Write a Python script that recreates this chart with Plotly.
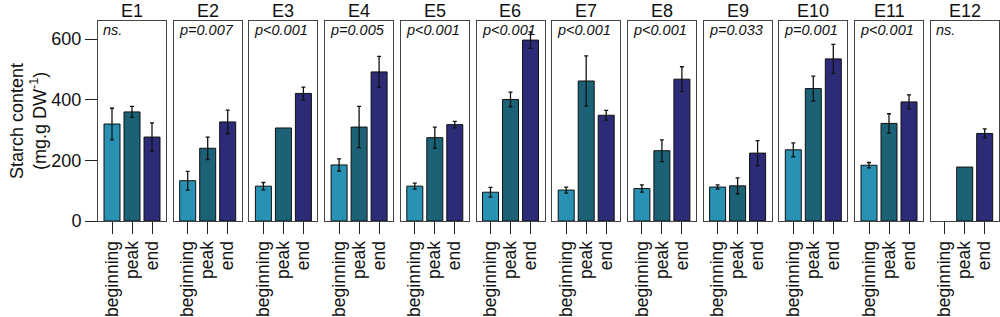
import plotly.graph_objects as go

panels = ["E1", "E2", "E3", "E4", "E5", "E6", "E7", "E8", "E9", "E10", "E11", "E12"]
pvals = ["ns.", "p=0.007", "p<0.001", "p=0.005", "p<0.001", "p<0.001",
         "p<0.001", "p<0.001", "p=0.033", "p=0.001", "p<0.001", "ns."]
stages = ["beginning", "peak", "end"]

beginning = [320, 133, 115, 185, 115, 95, 102, 107, 112, 235, 184, None]
beginning_err = [52, 31, 12, 20, 10, 16, 10, 12, 7, 23, 9, None]
peak = [360, 240, 307, 310, 275, 401, 462, 232, 116, 437, 322, 178]
peak_err = [18, 37, None, 68, 35, 24, 83, 36, 26, 41, 32, None]
end = [277, 327, 421, 492, 318, 597, 349, 468, 224, 535, 393, 289]
end_err = [47, 39, 21, 51, 11, 27, 16, 41, 41, 48, 23, 15]

colors = ["#2891b4", "#1c6277", "#2b2b78"]
y_ticks = [0, 200, 400, 600]

W, H = 1000, 317
FONT = "Liberation Sans, Arial, Helvetica, sans-serif"

fig = go.Figure()
left0, pitch, pw = 98.0, 75.7, 68.0
ytop_px, ybot_px = 20.7, 221.0
ydom = [1 - ybot_px / H, 1 - ytop_px / H]

series = [(beginning, beginning_err), (peak, peak_err), (end, end_err)]

for i, name in enumerate(panels):
    xa = "x" if i == 0 else f"x{i+1}"
    ya = "y" if i == 0 else f"y{i+1}"
    vals = [series[k][0][i] for k in range(3)]
    errs = [series[k][1][i] for k in range(3)]
    fig.add_trace(go.Bar(
        x=stages, y=vals, width=0.8,
        marker=dict(color=colors, line=dict(color="#111", width=1)),
        xaxis=xa, yaxis=ya, showlegend=False,
    ))
    for k in range(3):
        if errs[k] is None or vals[k] is None:
            continue
        fig.add_trace(go.Scatter(
            x=[stages[k]], y=[vals[k]], mode="markers",
            marker=dict(size=1, color="rgba(0,0,0,0)"),
            error_y=dict(type="data", array=[errs[k]], color="#111", thickness=1.3, width=2),
            xaxis=xa, yaxis=ya, showlegend=False, hoverinfo="skip",
        ))
    x0 = (left0 + i * pitch) / W
    x1 = (left0 + i * pitch + pw) / W
    fig.layout[f"xaxis{'' if i == 0 else i+1}"] = dict(
        domain=[x0, x1], anchor=ya, type="category",
        categoryorder="array", categoryarray=stages,
        tickmode="array", tickvals=stages, ticktext=stages,
        range=[-0.7, 2.7], showgrid=False, zeroline=False,
        showline=True, mirror=True, linecolor="#444", linewidth=1,
        ticks="outside", ticklen=12, tickcolor="#222", tickwidth=1,
        tickangle=-90, tickfont=dict(family=FONT, size=17.5, color="#111"),
        automargin=False, fixedrange=True,
    )
    fig.layout[f"yaxis{'' if i == 0 else i+1}"] = dict(
        domain=ydom, anchor=xa, range=[0, 661],
        showgrid=False, zeroline=False,
        showline=True, mirror=True, linecolor="#444", linewidth=1,
        tickmode="array", tickvals=y_ticks if i == 0 else [],
        ticks="outside" if i == 0 else "", ticklen=12, tickcolor="#222",
        showticklabels=(i == 0),
        tickfont=dict(family=FONT, size=18, color="#111"),
        automargin=False, fixedrange=True,
    )
    fig.add_annotation(
        x=(x0 + x1) / 2, y=1 - 10.5 / H, xref="paper", yref="paper",
        text=name, showarrow=False, xanchor="center", yanchor="middle",
        font=dict(family=FONT, size=18, color="#111"),
    )
    fig.add_annotation(
        x=x0 + 3 / W, y=1 - 30.5 / H, xref="paper", yref="paper",
        text=f"<i>{pvals[i]}</i>", showarrow=False, xanchor="left", yanchor="middle",
        font=dict(family=FONT, size=14.5, color="#111"),
    )

fig.add_annotation(
    x=17 / W, y=1 - 121 / H, xref="paper", yref="paper",
    text="Starch content", textangle=-90, showarrow=False,
    xanchor="center", yanchor="middle",
    font=dict(family=FONT, size=18, color="#111"),
)
fig.add_annotation(
    x=38 / W, y=1 - 121 / H, xref="paper", yref="paper",
    text="(mg.g DW<sup>-1</sup>)", textangle=-90, showarrow=False,
    xanchor="center", yanchor="middle",
    font=dict(family=FONT, size=18, color="#111"),
)

fig.update_layout(
    width=W, height=H, margin=dict(l=0, r=0, t=0, b=0, autoexpand=False),
    paper_bgcolor="white", plot_bgcolor="white", bargap=0.2,
)
fig.write_html(
    "out.html",
    config={"displayModeBar": False, "responsive": False},
    post_script="document.body.style.margin='0px';document.body.style.overflow='hidden';",
)
